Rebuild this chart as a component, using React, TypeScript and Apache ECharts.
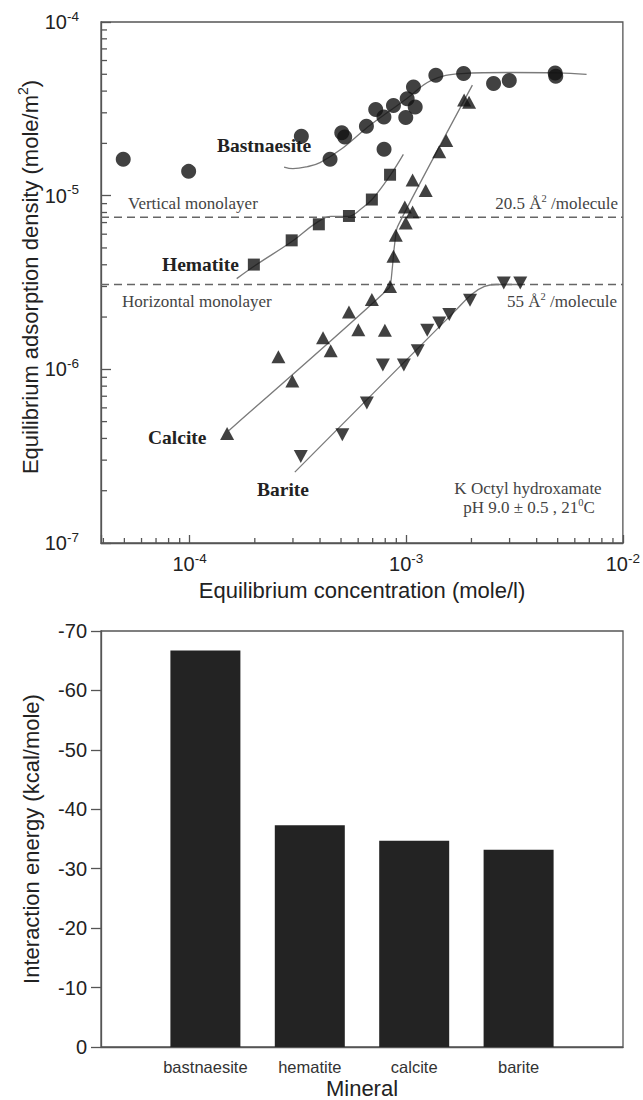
import React, { useEffect, useRef } from "react";
import * as echarts from "echarts";

// ---------- Top chart data (adsorption isotherms) ----------
const bastnaesiteX = [4.94e-5, 9.9e-5, 3.28e-4, 4.45e-4, 5.04e-4, 5.2e-4, 6.55e-4, 7.23e-4, 7.89e-4, 7.9e-4, 8.73e-4, 9.95e-4, 1.01e-3, 1.08e-3, 1.1e-3, 1.37e-3, 1.84e-3, 2.53e-3, 2.99e-3, 4.87e-3, 4.9e-3];
const bastnaesiteY = [1.62e-5, 1.38e-5, 2.2e-5, 1.62e-5, 2.3e-5, 2.18e-5, 2.51e-5, 3.13e-5, 2.84e-5, 1.85e-5, 3.31e-5, 2.82e-5, 3.62e-5, 4.23e-5, 3.24e-5, 4.93e-5, 5.05e-5, 4.42e-5, 4.61e-5, 5.08e-5, 4.87e-5];

const hematiteX = [1.98e-4, 2.96e-4, 3.95e-4, 5.44e-4, 6.94e-4, 8.42e-4];
const hematiteY = [4.01e-6, 5.53e-6, 6.84e-6, 7.64e-6, 9.5e-6, 1.32e-5];

const calciteX = [1.49e-4, 2.57e-4, 2.98e-4, 4.13e-4, 4.48e-4, 5.44e-4, 6.01e-4, 6.94e-4, 7.97e-4, 8.42e-4, 8.73e-4, 8.95e-4, 9.95e-4, 9.85e-4, 1.07e-3, 1.07e-3, 1.23e-3, 1.42e-3, 1.53e-3, 1.85e-3, 1.95e-3];
const calciteY = [4.27e-7, 1.18e-6, 8.57e-7, 1.52e-6, 1.28e-6, 2.14e-6, 1.69e-6, 2.52e-6, 1.68e-6, 3.0e-6, 4.48e-6, 5.91e-6, 6.96e-6, 8.61e-6, 8.05e-6, 1.23e-5, 1.07e-5, 1.79e-5, 2.08e-5, 3.55e-5, 3.45e-5];

const bariteX = [3.26e-4, 5.07e-4, 6.58e-4, 7.8e-4, 9.75e-4, 1.13e-3, 1.25e-3, 1.42e-3, 1.58e-3, 1.97e-3, 2.82e-3, 3.36e-3];
const bariteY = [3.15e-7, 4.2e-7, 6.4e-7, 1.06e-6, 1.06e-6, 1.28e-6, 1.68e-6, 1.85e-6, 2.07e-6, 2.5e-6, 3.14e-6, 3.14e-6];

// fitted curves
const bastFitX = [2.73e-4, 3.0e-4, 3.5e-4, 4.0e-4, 5.0e-4, 6.5e-4, 8.0e-4, 1.0e-3, 1.3e-3, 1.8e-3, 3.0e-3, 5.0e-3, 6.8e-3];
const bastFitY = [1.46e-5, 1.43e-5, 1.47e-5, 1.55e-5, 1.85e-5, 2.43e-5, 2.95e-5, 3.6e-5, 4.6e-5, 5.05e-5, 5.12e-5, 5.1e-5, 5.0e-5];
const hemFitX = [1.65e-4, 2.0e-4, 3.0e-4, 3.8e-4, 4.5e-4, 5.4e-4, 6.2e-4, 7.0e-4, 8.4e-4, 9.7e-4];
const hemFitY = [3.33e-6, 3.95e-6, 5.5e-6, 6.9e-6, 7.6e-6, 7.6e-6, 8.4e-6, 9.6e-6, 1.3e-5, 1.73e-5];
const calFitX = [1.52e-4, 8.35e-4, 8.6e-4, 8.8e-4, 9.1e-4, 2.02e-3];
const calFitY = [4.45e-7, 2.95e-6, 3.7e-6, 5.0e-6, 6.6e-6, 4.33e-5];
const barFitX = [3.06e-4, 1.7e-3, 2.0e-3, 2.3e-3, 2.6e-3, 3.4e-3];
const barFitY = [2.56e-7, 2.2e-6, 2.7e-6, 3.0e-6, 3.08e-6, 3.08e-6];

// monolayer levels
const verticalMonolayer = 7.5e-6;
const horizontalMonolayer = 3.08e-6;

const xMin = 3.9e-5;
const xMax = 1e-2;
const yMin = 1e-7;
const yMax = 1e-4;

// ---------- Bottom chart data ----------
const minerals = ["bastnaesite", "hematite", "calcite", "barite"];
const energies = [-66.7, -37.3, -34.7, -33.2];

const zip = (xs: number[], ys: number[]) => xs.map((x, i) => [x, ys[i]]);

const minorTicks = (lo: number, hi: number) => {
  const out: number[] = [];
  for (let e = -8; e <= -1; e++) {
    for (let d = 2; d <= 9; d++) {
      const v = d * Math.pow(10, e);
      if (v > lo * 1.0001 && v < hi * 0.9999) out.push(v);
    }
  }
  return out;
};

const SANS = "Liberation Sans, Arial, sans-serif";
const SERIF = "Liberation Serif, Times New Roman, serif";
const AXIS = "#555";

const powLabel = (v: number) => {
  const l = Math.log10(v);
  const e = Math.round(l);
  if (Math.abs(l - e) > 1e-6) return "";
  return `{b|10}{s|${e}}`;
};
const powRich = {
  b: { fontSize: 20, fontFamily: SANS, color: "#222", lineHeight: 26 },
  s: { fontSize: 13.5, fontFamily: SANS, color: "#222", verticalAlign: "top", lineHeight: 14 },
};

export default function App() {
  const ref = useRef<HTMLDivElement>(null);
  useEffect(() => {
    if (!ref.current) return;
    const chart = echarts.init(ref.current, undefined, { renderer: "svg" });

    const markerBase = { type: "scatter", xAxisIndex: 0, yAxisIndex: 0, z: 4, itemStyle: { color: "#111" }, silent: true };
    const fitBase = {
      type: "line",
      xAxisIndex: 0,
      yAxisIndex: 0,
      showSymbol: false,
      symbol: "none",
      z: 3,
      silent: true,
      lineStyle: { color: "#7a7a7a", width: 1.3 },
    };
    const dashBase = {
      type: "line",
      xAxisIndex: 0,
      yAxisIndex: 0,
      symbol: "none",
      z: 2,
      silent: true,
      lineStyle: { color: "#666", width: 1.5, type: [8, 5] },
    };

    const serifText = (text: string, x: number, y: number, opts: any = {}) => ({
      type: "text",
      x,
      y,
      z: 1,
      style: {
        text,
        fontFamily: SERIF,
        fontSize: opts.fontSize || 16,
        fontWeight: opts.bold ? "bold" : "normal",
        fill: opts.color || "#333",
        align: opts.align || "left",
        verticalAlign: "middle",
        rich: {
          s: { fontSize: 10.5, fontFamily: SERIF, fill: opts.color || "#333", verticalAlign: "top", lineHeight: 10 },
          n: { fontSize: opts.fontSize || 16, fontFamily: SERIF, fill: opts.color || "#333", lineHeight: 20 },
        },
      },
    });

    const sansTitle = (text: string, x: number, y: number, rot: number) => ({
      type: "text",
      x,
      y,
      rotation: rot,
      z: 1,
      style: {
        text,
        fontFamily: SANS,
        fontSize: 22,
        fill: "#222",
        align: "center",
        verticalAlign: "middle",
        rich: {
          a: { fontSize: 22, fontFamily: SANS, fill: "#222", lineHeight: 28 },
          s: { fontSize: 14, fontFamily: SANS, fill: "#222", verticalAlign: "top", lineHeight: 14 },
        },
      },
    });

    const option: any = {
      animation: false,
      backgroundColor: "#fff",
      grid: [
        { left: 101, top: 22, width: 522, height: 521, show: true, borderColor: AXIS, borderWidth: 1.3, backgroundColor: "transparent" },
        { left: 101, top: 631, width: 522, height: 416, show: true, borderColor: AXIS, borderWidth: 1.3, backgroundColor: "transparent" },
      ],
      xAxis: [
        {
          type: "log",
          logBase: 10,
          gridIndex: 0,
          min: xMin,
          max: xMax,
          axisLine: { show: true, lineStyle: { color: AXIS, width: 1.3 } },
          axisTick: { show: true, inside: true, length: 8, lineStyle: { color: AXIS, width: 1.3 } },
          axisLabel: { formatter: powLabel, rich: powRich, margin: 8 },
          splitLine: { show: false },
          minorTick: { show: false },
        },
        {
          type: "category",
          gridIndex: 1,
          data: ["", ...minerals, ""],
          boundaryGap: false,
          axisLine: { show: true, lineStyle: { color: AXIS, width: 1.3 } },
          axisTick: { show: false },
          axisLabel: { interval: 0, fontSize: 16.5, fontFamily: SANS, color: "#333", margin: 11 },
          splitLine: { show: false },
        },
      ],
      yAxis: [
        {
          type: "log",
          logBase: 10,
          gridIndex: 0,
          min: yMin,
          max: yMax,
          axisLine: { show: true, lineStyle: { color: AXIS, width: 1.3 } },
          axisTick: { show: true, inside: true, length: 10, lineStyle: { color: AXIS, width: 1.3 } },
          axisLabel: { formatter: powLabel, rich: powRich, margin: 22 },
          splitLine: { show: false },
        },
        {
          type: "value",
          gridIndex: 1,
          min: -70,
          max: 0,
          interval: 10,
          inverse: true,
          axisLine: { show: true, lineStyle: { color: AXIS, width: 1.3 } },
          axisTick: { show: true, inside: false, length: 10, lineStyle: { color: AXIS, width: 1.3 } },
          axisLabel: { fontSize: 20, fontFamily: SANS, color: "#222", margin: 14 },
          splitLine: { show: false },
        },
      ],
      series: [
        { ...dashBase, data: [[xMin, verticalMonolayer], [xMax, verticalMonolayer]] },
        { ...dashBase, data: [[xMin, horizontalMonolayer], [xMax, horizontalMonolayer]] },
        { ...fitBase, smooth: 0.4, data: zip(bastFitX, bastFitY) },
        { ...fitBase, smooth: 0.4, data: zip(hemFitX, hemFitY) },
        { ...fitBase, smooth: 0.15, data: zip(calFitX, calFitY) },
        { ...fitBase, smooth: 0.3, data: zip(barFitX, barFitY) },
        { ...markerBase, symbol: "circle", symbolSize: 15, data: zip(bastnaesiteX, bastnaesiteY) },
        { ...markerBase, symbol: "rect", symbolSize: 12, data: zip(hematiteX, hematiteY) },
        { ...markerBase, symbol: "triangle", symbolSize: [14, 13], data: zip(calciteX, calciteY) },
        { ...markerBase, symbol: "triangle", symbolRotate: 180, symbolSize: [14, 13], data: zip(bariteX, bariteY) },
        {
          type: "custom",
          xAxisIndex: 0,
          yAxisIndex: 0,
          silent: true,
          clip: false,
          z: 5,
          data: minorTicks(xMin, xMax).map((v) => [v, yMin]),
          renderItem: (_p: any, api: any) => {
            const p = api.coord([api.value(0), api.value(1)]);
            return { type: "line", shape: { x1: p[0], y1: p[1], x2: p[0], y2: p[1] - 5 }, style: { stroke: AXIS, lineWidth: 1.3 } };
          },
        },
        {
          type: "custom",
          xAxisIndex: 0,
          yAxisIndex: 0,
          silent: true,
          clip: false,
          z: 5,
          data: minorTicks(yMin, yMax).map((v) => [xMin, v]),
          renderItem: (_p: any, api: any) => {
            const p = api.coord([api.value(0), api.value(1)]);
            return { type: "line", shape: { x1: p[0], y1: p[1], x2: p[0] + 6, y2: p[1] }, style: { stroke: AXIS, lineWidth: 1.3 } };
          },
        },
        {
          type: "bar",
          xAxisIndex: 1,
          yAxisIndex: 1,
          barWidth: 70,
          silent: true,
          itemStyle: { color: "#232323" },
          data: ["-", ...energies, "-"],
        },
      ],
      graphic: [
        sansTitle("{a|Equilibrium adsorption density (mole/m}{s|2}{a|)}", 30, 277, Math.PI / 2),
        sansTitle("{a|Equilibrium concentration (mole/l)}", 362, 590, 0),
        sansTitle("{a|Interaction energy (kcal/mole)}", 31, 839, Math.PI / 2),
        sansTitle("{a|Mineral}", 362, 1088, 0),
        serifText("Bastnaesite", 217, 145, { bold: true, fontSize: 19.5, color: "#222" }),
        serifText("Hematite", 162, 264, { bold: true, fontSize: 19.5, color: "#222" }),
        serifText("Calcite", 148, 437, { bold: true, fontSize: 19.5, color: "#222" }),
        serifText("Barite", 257, 489, { bold: true, fontSize: 19.5, color: "#222" }),
        serifText("Vertical monolayer", 128, 203, { fontSize: 17, color: "#444" }),
        serifText("Horizontal monolayer", 122, 301, { fontSize: 17, color: "#444" }),
        serifText("{n|20.5 Å}{s|2}{n| /molecule}", 618, 203, { fontSize: 17, color: "#444", align: "right" }),
        serifText("{n|55 Å}{s|2}{n| /molecule}", 617, 301, { fontSize: 17, color: "#444", align: "right" }),
        serifText("K Octyl hydroxamate", 528, 488, { fontSize: 17, color: "#444", align: "center" }),
        serifText("{n|pH 9.0 ± 0.5 , 21}{s|0}{n|C}", 529, 507, { fontSize: 17, color: "#444", align: "center" }),
      ],
    };
    chart.setOption(option);
    return () => chart.dispose();
  }, []);
  return <div ref={ref} style={{ position: "absolute", left: 0, top: 0, width: 643, height: 1100 }} />;
}
